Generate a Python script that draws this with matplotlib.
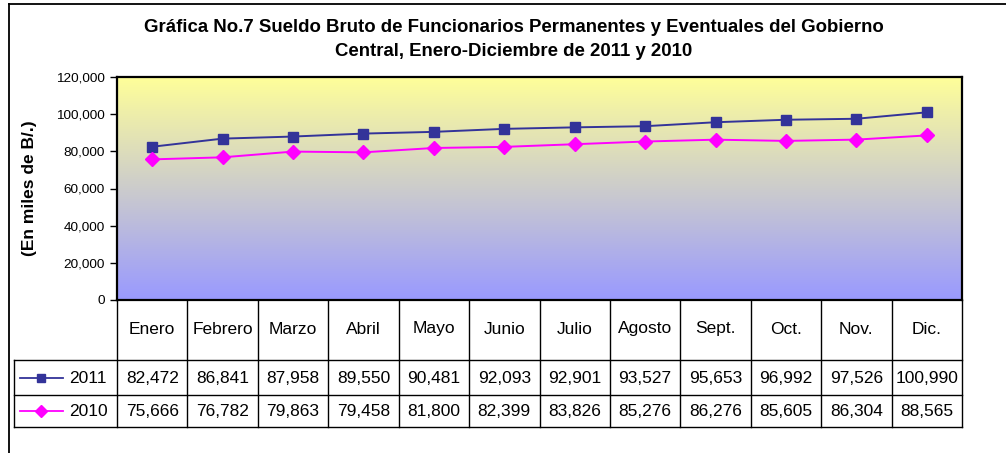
import numpy as np
import matplotlib
matplotlib.use("Agg")
import matplotlib.pyplot as plt
import matplotlib.transforms as mtransforms
from matplotlib.colors import LinearSegmentedColormap

plt.rcParams['font.family'] = ['Liberation Sans', 'DejaVu Sans']

meses = ["Enero", "Febrero", "Marzo", "Abril", "Mayo", "Junio",
         "Julio", "Agosto", "Sept.", "Oct.", "Nov.", "Dic."]
v2011 = [82472, 86841, 87958, 89550, 90481, 92093,
         92901, 93527, 95653, 96992, 97526, 100990]
v2010 = [75666, 76782, 79863, 79458, 81800, 82399,
         83826, 85276, 86276, 85605, 86304, 88565]
yticks = [0, 20000, 40000, 60000, 80000, 100000, 120000]

C2011 = "#333399"
C2010 = "#FF00FF"

W, H = 1006, 453
fig = plt.figure(figsize=(W / 100, H / 100), dpi=100)

# outer chart frame (only top and left visible in the reference)
fig.add_artist(plt.Line2D([9 / W, 9 / W], [0, 1 - 4 / H], color="black", lw=1.3))
fig.add_artist(plt.Line2D([9 / W, 1], [1 - 4 / H, 1 - 4 / H], color="black", lw=1.3))

left, right, top, bottom = 117, 962, 77, 300
ax = fig.add_axes([left / W, 1 - bottom / H, (right - left) / W, (bottom - top) / H])

x = np.arange(len(meses))
ax.set_xlim(-0.5, len(meses) - 0.5)
ax.set_ylim(0, 120000)

# yellow -> periwinkle gradient background
cmap = LinearSegmentedColormap.from_list("bg", ["#9999FF", "#FFFF99"])
grad = np.linspace(0, 1, 256).reshape(-1, 1)
ax.imshow(grad, cmap=cmap, aspect="auto", origin="lower",
          extent=[-0.5, len(meses) - 0.5, 0, 120000], zorder=0)

ax.plot(x, v2011, color=C2011, lw=1.4, marker="s", ms=6.8, zorder=3)
ax.plot(x, v2010, color=C2010, lw=1.4, marker="D", ms=7.5, zorder=3)

ax.set_yticks(yticks)
ax.set_yticklabels([f"{v:,}" for v in yticks], fontsize=9.7)
ax.set_xticks([])
ax.tick_params(axis="y", length=5, width=1, pad=4)
for s in ax.spines.values():
    s.set_linewidth(1.6)

ax.set_ylabel("(En miles de B/.)", fontsize=12.5, fontweight="bold", labelpad=0)
ax.yaxis.set_label_coords((37 - left) / (right - left), 0.5)

fig.text(514 / W, 1 - 28 / H,
         "Gráfica No.7 Sueldo Bruto de Funcionarios Permanentes y Eventuales del Gobierno",
         ha="center", va="center", fontsize=13.4, fontweight="bold")
fig.text(514 / W, 1 - 52 / H, "Central, Enero-Diciembre de 2011 y 2010",
         ha="center", va="center", fontsize=13.4, fontweight="bold")

# data table below the plot
tr = mtransforms.blended_transform_factory(ax.transData, ax.transAxes)
ph = bottom - top
colw = (right - left) / len(meses)


def fy(ypx):
    return (bottom - ypx) / ph


def fx(xpx):
    return -0.5 + (xpx - left) / colw


kw = dict(transform=tr, clip_on=False, color="black", lw=1)
xl = fx(14)
for yy in [360, 395, 427]:
    ax.add_line(plt.Line2D([xl, len(meses) - 0.5], [fy(yy), fy(yy)], **kw))
ax.add_line(plt.Line2D([xl, xl], [fy(360), fy(427)], **kw))
for i in range(len(meses) + 1):
    ax.add_line(plt.Line2D([i - 0.5, i - 0.5], [fy(300), fy(427)], **kw))

for i, m in enumerate(meses):
    ax.text(i, fy(329), m, transform=tr, ha="center", va="center", fontsize=12.5)
    ax.text(i, fy(378), f"{v2011[i]:,}", transform=tr, ha="center", va="center", fontsize=12.5)
    ax.text(i, fy(411), f"{v2010[i]:,}", transform=tr, ha="center", va="center", fontsize=12.5)

for yc, col, mk, ms, lab in [(378, C2011, "s", 6, "2011"), (411, C2010, "D", 6.5, "2010")]:
    ax.add_line(plt.Line2D([fx(20), fx(63)], [fy(yc), fy(yc)], transform=tr,
                           clip_on=False, color=col, lw=1.3))
    ax.add_line(plt.Line2D([fx(41)], [fy(yc)], transform=tr, clip_on=False,
                           color=col, marker=mk, ms=ms, lw=0))
    ax.text(fx(88), fy(yc), lab, transform=tr, ha="center", va="center", fontsize=12.5)

fig.savefig("out.png", dpi=100)
